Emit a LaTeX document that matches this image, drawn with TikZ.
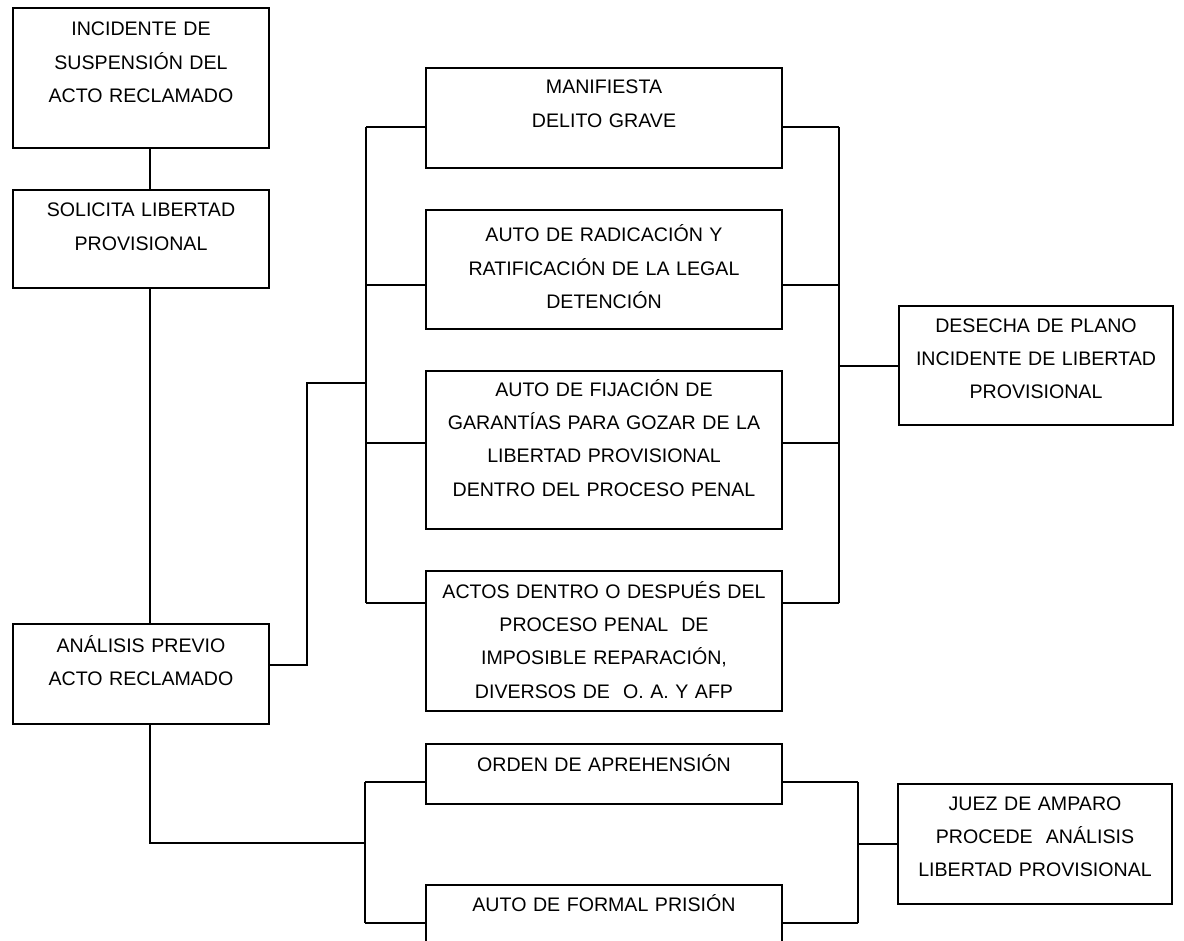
\documentclass[tikz,border=0pt]{standalone}
\usepackage{fontspec}
\setsansfont{Liberation Sans}
\usetikzlibrary{positioning}
\tikzset{
	caja/.style={
		rectangle,
		draw=black, line width=1.5pt,
		text width=#1,
		inner xsep=0pt, inner ysep=0pt,
		align=center,
		font=\sffamily\fontsize{14.7pt}{25pt}\selectfont},
	linea/.style={draw, line width=1.5pt},
}
\begin{document}
\begin{tikzpicture}
		[x=0.75pt, y=-0.75pt, node distance=30pt, font=\sffamily]
		\useasboundingbox (0,0) rectangle (1184,941);
		\clip (0,0) rectangle (1184,941);
		% columna izquierda
		\node[caja=192pt, anchor=north west, text height=21pt, text depth=84pt] (incidente) at (12,7)
			{INCIDENTE DE\\SUSPENSIÓN DEL\\ACTO RECLAMADO};
		\node[caja=192pt, below=of incidente, text height=20.25pt, text depth=53.25pt] (solicita)
			{SOLICITA LIBERTAD\\PROVISIONAL};
		\node[caja=192pt, anchor=north west, text height=21pt, text depth=54pt] (analisis) at (12,623)
			{ANÁLISIS PREVIO\\ACTO RECLAMADO};
		% columna central
		\node[caja=267pt, anchor=north west, text height=19.5pt, text depth=55.5pt] (manifiesta) at (425,67)
			{MANIFIESTA\\DELITO GRAVE};
		\node[caja=267pt, below=of manifiesta, text height=24pt, text depth=65.25pt] (radicacion)
			{AUTO DE RADICACIÓN Y\\RATIFICACIÓN DE LA LEGAL\\DETENCIÓN};
		\node[caja=267pt, below=of radicacion, text height=18.75pt, text depth=99.75pt] (fijacion)
			{AUTO DE FIJACIÓN DE\\GARANTÍAS PARA GOZAR DE LA\\LIBERTAD PROVISIONAL\\DENTRO DEL PROCESO PENAL};
		\node[caja=267pt, below=of fijacion, text height=20.25pt, text depth=84.75pt] (actos)
			{ACTOS DENTRO O DESPUÉS DEL\\PROCESO PENAL\ \ DE\\IMPOSIBLE REPARACIÓN,\\DIVERSOS DE\ \ O. A. Y AFP};
		\node[caja=267pt, anchor=north west, text height=20.25pt, text depth=24.75pt] (orden) at (425,743)
			{ORDEN DE APREHENSIÓN};
		\node[caja=267pt, below=59.25pt of orden, text height=19.5pt, text depth=45pt] (formal)
			{AUTO DE FORMAL PRISIÓN};
		% columna derecha
		\node[caja=205.5pt, anchor=north west, text height=19.5pt, text depth=69.75pt] (desecha) at (898,305)
			{DESECHA DE PLANO\\INCIDENTE DE LIBERTAD\\PROVISIONAL};
		\node[caja=205.5pt, anchor=north west, text height=19.5pt, text depth=70.5pt] (juez) at (897,783)
			{JUEZ DE AMPARO\\PROCEDE\ \ ANÁLISIS\\LIBERTAD PROVISIONAL};
		% puntos de las lineas
		\coordinate (eje) at (150,0);
		\coordinate (paso) at (307,383);
		\coordinate (i1) at (366,127);
		\coordinate (i2) at (366,285);
		\coordinate (i3) at (366,443);
		\coordinate (i4) at (366,603);
		\coordinate (d1) at (839,127);
		\coordinate (d2) at (839,285);
		\coordinate (d3) at (839,443);
		\coordinate (d4) at (839,603);
		\coordinate (o1) at (365,782);
		\coordinate (o2) at (365,923);
		\coordinate (o3) at (858,782);
		\coordinate (o4) at (858,923);
		\coordinate (cruce) at (365,843);
		% lineas
		\draw[linea] (incidente.south -| eje) -- (solicita.north -| eje);
		\draw[linea] (solicita.south -| eje) -- (analisis.north -| eje);
		\draw[linea] ([yshift=6.75pt]analisis.east) -| (paso) -- (paso -| i1);
		\draw[linea] (i1) -- (i4);
		\draw[linea] (d1) -- (d4);
		\foreach \n/\caja in {1/manifiesta,2/radicacion,3/fijacion,4/actos} {
			\draw[linea] (i\n) -- (i\n -| \caja.west);
			\draw[linea] (d\n) -- (d\n -| \caja.east);
		}
		\draw[linea] (desecha.west) -- (desecha.west -| d1);
		\draw[linea] (analisis.south -| eje) |- (cruce);
		\draw[linea] (o1) -- (o2);
		\draw[linea] (o3) -- (o4);
		\draw[linea] (o1) -- (o1 -| orden.west);
		\draw[linea] (o2) -- (o2 -| formal.west);
		\draw[linea] (o3) -- (o3 -| orden.east);
		\draw[linea] (o4) -- (o4 -| formal.east);
		\draw[linea] (juez.west) -- (juez.west -| o3);
\end{tikzpicture}
\end{document}
